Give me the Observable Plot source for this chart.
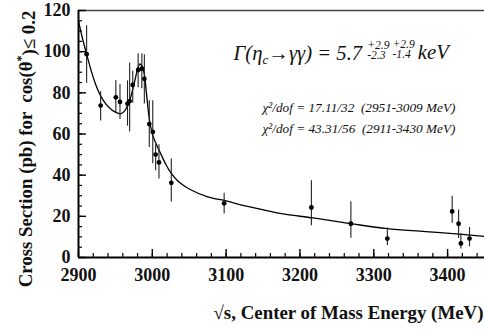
<!DOCTYPE html>
<html>
<head>
<meta charset="utf-8">
<script src="https://cdn.jsdelivr.net/npm/d3@7"></script>
<script src="https://cdn.jsdelivr.net/npm/@observablehq/plot@0.6"></script>
<style>
  html, body { margin: 0; padding: 0; background: #fff; }
  #chart svg, #chart svg text, #chart svg tspan { font-family: "Liberation Serif", "Times New Roman", "DejaVu Serif", serif !important; }
  svg text { white-space: pre; }
</style>
</head>
<body>
<div id="chart"></div>
<script>
// Measured two-photon cross section (pb) vs. centre-of-mass energy (MeV)
const energy  = [2911, 2930, 2950.6, 2956.2, 2966.4, 2969.3, 2973.5, 2980.8, 2985.8, 2989.2, 2995.9, 3000.6, 3004.5, 3009, 3025.7, 3097.3, 3215.5, 3269, 3318.4, 3406.2, 3414.9, 3418, 3429.7];
const sigma   = [98.8, 73.8, 77.8, 75.6, 74.7, 76.0, 83.8, 91.1, 91.7, 86.8, 64.8, 61.0, 50.0, 46.2, 36.3, 26.3, 24.3, 16.4, 9.2, 22.4, 16.4, 6.8, 9.2];
const sigmaLo = [84.6, 66.3, 69.8, 67.0, 63.8, 61.0, 75.0, 82.5, 82.0, 74.6, 53.5, 45.5, 42.2, 38.1, 27.0, 21.1, 15.4, 9.4, 5.7, 16.7, 9.2, 4.1, 5.2];
const sigmaHi = [112.6, 80.5, 86.0, 84.0, 85.8, 94.5, 90.5, 99.0, 99.0, 98.5, 76.2, 76.2, 54.8, 54.8, 47.9, 31.2, 37.3, 27.1, 14.3, 29.7, 23.1, 11.4, 14.6];

// Fitted curve (resonance + continuum), sampled along the fit
const fitEnergy = [2900, 2905, 2911, 2917, 2923, 2930, 2937, 2944, 2950, 2957, 2962, 2966, 2970, 2973, 2977, 2980, 2983, 2986, 2989, 2992, 2995.5, 2999, 3002, 3006, 3010, 3018, 3025, 3035, 3050, 3075, 3100, 3120, 3146, 3175, 3218, 3268, 3318, 3370, 3420, 3450];
const fitSigma  = [115, 107, 98.8, 91, 84.3, 78.5, 74.6, 72, 70.6, 69.8, 71, 73.5, 77, 81, 87, 91.5, 94, 93, 89.5, 80, 68.5, 61.5, 58, 54.5, 51.5, 45.5, 41.2, 37, 33.3, 29.5, 27.5, 25.6, 23.5, 21.3, 19.2, 16.5, 14, 12.6, 11.2, 10.2];

// Axis ticks
const xMajorTicks = [2900, 3000, 3100, 3200, 3300, 3400];
const xMinorTicks = d3.range(2900, 3451, 20);
const yMajorTicks = [0, 20, 40, 60, 80, 100, 120];
const yMinorTicks = d3.range(0, 121, 5);

// Text
const xTitle = "√s, Center of Mass Energy (MeV)";
const yTitle = "Cross Section (pb) for  cos(θ*)≤ 0.2";
const widthResult = "Γ(ηc→γγ) = 5.7 +2.9-2.3 +2.9-1.4 keV";
const chiLines = ["χ²/dof = 17.11/32  (2951-3009 MeV)", "χ²/dof = 43.31/56  (2911-3430 MeV)"];

const serif = "Liberation Serif";

const points = energy.map((e, i) => ({e, s: sigma[i], lo: sigmaLo[i], hi: sigmaHi[i]}));
const fit = fitEnergy.map((e, i) => ({e, s: fitSigma[i]}));

// italic annotation placed relative to the top-left corner of the frame
const note = (t, dx, dy, opts = {}) => Plot.text([t], {
  text: d => d, frameAnchor: "top-left", textAnchor: "start", lineAnchor: "bottom",
  dx, dy, fontFamily: serif, fontStyle: "italic", fontSize: 20.5, fill: "#111", ...opts
});

const chart = Plot.plot({
  width: 484,
  height: 332,
  marginLeft: 78,
  marginRight: 0,
  marginTop: 10,
  marginBottom: 75,
  style: {background: "#fff", color: "#000", overflow: "visible"},
  x: {domain: [2900, 3450]},
  y: {domain: [0, 120]},
  marks: [
    // frame
    Plot.ruleY([120], {stroke: "#444", strokeWidth: 1.5}),
    Plot.ruleX([2900], {stroke: "#000", strokeWidth: 2}),
    Plot.ruleY([0], {stroke: "#000", strokeWidth: 2}),

    // inward ticks
    Plot.axisX(xMinorTicks, {tickSize: -4, tickFormat: () => "", label: null, strokeWidth: 1.2}),
    Plot.axisX(xMajorTicks, {tickSize: -8, tickFormat: () => "", label: null, strokeWidth: 1.4}),
    Plot.axisY(yMinorTicks, {tickSize: -4, tickFormat: () => "", label: null, strokeWidth: 1.2}),
    Plot.axisY(yMajorTicks, {tickSize: -8, tickFormat: () => "", label: null, strokeWidth: 1.4}),

    // tick labels
    Plot.axisX(xMajorTicks, {tickSize: 0, tickPadding: 11, label: null, tickFormat: d => String(d),
      fontSize: 18, fontWeight: "bold", fill: "#111"}),
    Plot.axisY(yMajorTicks, {tickSize: 0, tickPadding: 8, label: null, tickFormat: d => String(d),
      fontSize: 18, fontWeight: "bold", fill: "#111"}),

    // fit curve, error bars, points
    Plot.line(fit, {x: "e", y: "s", curve: "catmull-rom", stroke: "#000", strokeWidth: 1.3}),
    Plot.ruleX(points, {x: "e", y1: "lo", y2: "hi", stroke: "#222", strokeWidth: 1.1}),
    Plot.dot(points, {x: "e", y: "s", r: 2.4, fill: "#000", stroke: null}),

    // partial width result and fit quality
    note(widthResult, 155, 49.3),
    note(chiLines[0], 184, 101.5, {fontSize: 13.5}),
    note(chiLines[1], 184, 122.3, {fontSize: 13.5}),

    // axis titles
    Plot.text([xTitle], {text: d => d, frameAnchor: "bottom-right", textAnchor: "end", lineAnchor: "bottom",
      dx: -1, dy: 61, fontWeight: "bold", fontSize: 19, fill: "#111"}),
    Plot.text([yTitle], {text: d => d, frameAnchor: "left", rotate: -90, textAnchor: "middle", lineAnchor: "bottom",
      dx: -47, dy: 15, fontWeight: "bold", fontSize: 19, fill: "#111"})
  ]
});

document.getElementById("chart").appendChild(chart);

const textsMatching = s => d3.select(chart).selectAll("text").filter(function() { return this.textContent === s; });

// horizontal labels set to their printed widths
textsMatching(xTitle).attr("textLength", 270).attr("lengthAdjust", "spacingAndGlyphs");
chiLines.forEach(s => textsMatching(s).attr("textLength", 193).attr("lengthAdjust", "spacingAndGlyphs"));

// raise the asterisk in cos(θ*), then size the title to run 277px along the axis
textsMatching(yTitle).each(function() {
  const t = d3.select(this);
  const [head, tail] = yTitle.split("*");
  t.text(null);
  t.append("tspan").text(head);
  t.append("tspan").attr("dy", "-0.55em").attr("font-size", "0.65em").text("*");
  t.append("tspan").attr("dy", "0.55em").text(tail);
  const len = this.getComputedTextLength();
  if (len > 0) t.attr("font-size", 19 * 277 / len);
});

// Γ(ηc→γγ) with subscript and stacked asymmetric errors
textsMatching(widthResult).each(function() {
  const t = d3.select(this);
  t.text(null);
  t.append("tspan").text("Γ(η");
  t.append("tspan").attr("font-size", 13).attr("dy", 4).text("c");
  t.append("tspan").attr("dy", -4).text("→γγ) = 5.7");
  // one stacked error pair: upper raised, lower near the baseline
  const stack = (up, down, gap) => {
    const a = t.append("tspan").attr("font-size", 11.5).attr("dx", gap).attr("dy", -11).text(up);
    const wa = a.node().getComputedTextLength();
    const b = t.append("tspan").attr("font-size", 11.5).attr("dx", -wa).attr("dy", 10).text(down);
    const wb = b.node().getComputedTextLength();
    return Math.max(wa, wb) - wb;
  };
  let rest = stack("+2.9", "-2.3", 5);
  rest = stack("+2.9", "-1.4", rest + 3);
  t.append("tspan").attr("dx", rest + 3).attr("dy", 1).text("keV");
  // stretch horizontally about its left end to span 219px
  const box = this.getBBox();
  if (box.width > 0) {
    const k = 219 / box.width, prev = this.getAttribute("transform") || "";
    this.setAttribute("transform", `${prev} translate(${box.x},0) scale(${k},1) translate(${-box.x},0)`);
  }
});
</script>
</body>
</html>
